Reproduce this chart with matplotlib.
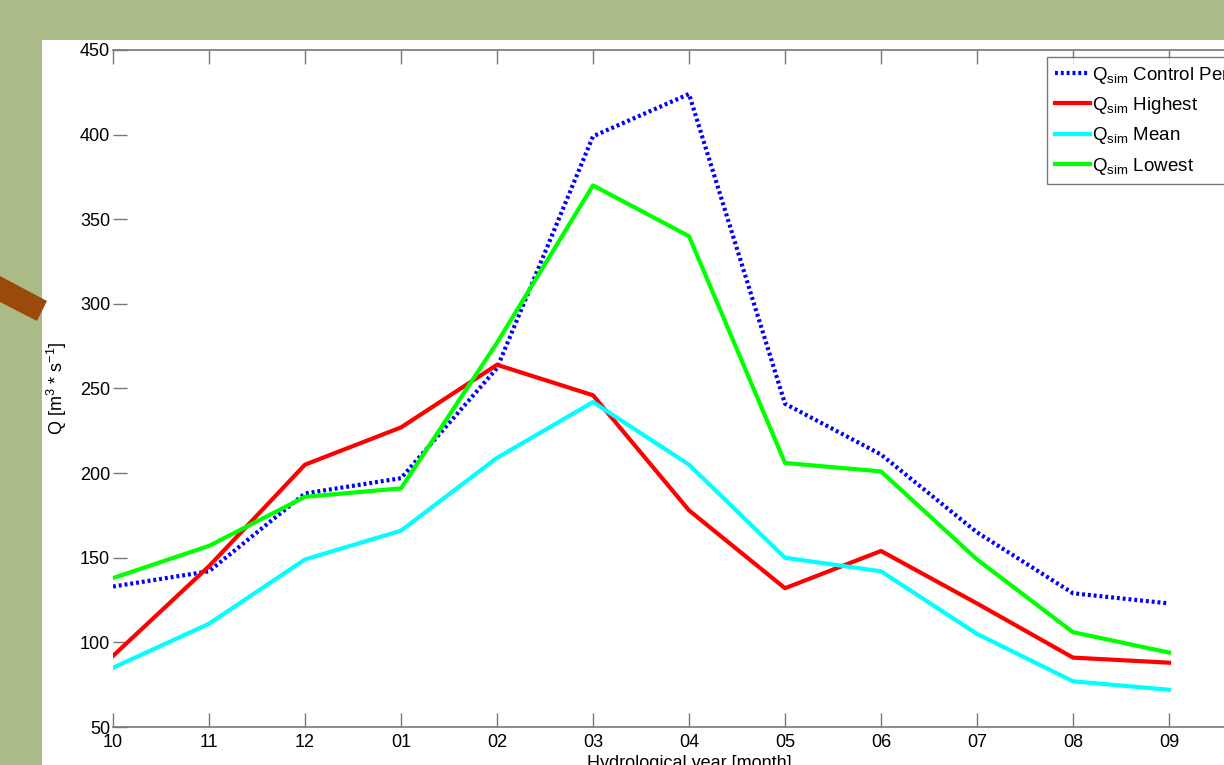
import numpy as np
import matplotlib.pyplot as plt
from matplotlib.patches import Polygon, Rectangle

plt.rcParams['font.family'] = ['Liberation Sans', 'DejaVu Sans']
plt.rcParams['mathtext.fontset'] = 'custom'
plt.rcParams['mathtext.rm'] = 'Liberation Sans'
plt.rcParams['mathtext.it'] = 'Liberation Sans:italic'

# mes del año hidrológico
months = ['10', '11', '12', '01', '02', '03', '04', '05', '06', '07', '08', '09']
q_control = [133, 142, 188, 197, 262, 399, 424, 241, 211, 165, 129, 123]
q_highest = [92, 145, 205, 227, 264, 246, 178, 132, 154, 123, 91, 88]
q_mean = [85, 111, 149, 166, 209, 242, 205, 150, 142, 105, 77, 72]
q_lowest = [138, 157, 186, 191, 277, 370, 340, 206, 201, 149, 106, 94]

W, H = 1224, 765
fig = plt.figure(figsize=(W / 100, H / 100), dpi=100)
fig.patch.set_facecolor('#aabb87')

# panel blanco y barra marrón del fondo de la diapositiva
fig.patches.append(Rectangle((42 / W, 0), 1, 1 - 40 / H, transform=fig.transFigure,
                             facecolor='white', edgecolor='none', zorder=-2))
barra = [(0, 276), (47, 301), (37, 321), (0, 302)]
fig.patches.append(Polygon([(x / W, 1 - y / H) for x, y in barra], closed=True,
                           transform=fig.transFigure, facecolor='#9a4a0a',
                           edgecolor='none', zorder=-1))

x0, x1 = 113, 1265
ax = fig.add_axes([x0 / W, 1 - 727 / H, (x1 - x0) / W, 677 / H])
ax.set_facecolor('none')

x = np.arange(1, len(months) + 1)
ax.plot(x, q_control, color='#0000ff', lw=3, ls=(0, (0.7, 0.7)),
        label=r'Q$_{\mathrm{sim}}$ Control Period')
ax.plot(x, q_highest, color='#ff0000', lw=3, label=r'Q$_{\mathrm{sim}}$ Highest')
ax.plot(x, q_mean, color='#00ffff', lw=3, label=r'Q$_{\mathrm{sim}}$ Mean')
ax.plot(x, q_lowest, color='#00ff00', lw=3, label=r'Q$_{\mathrm{sim}}$ Lowest')

ax.set_xlim(1, 13)
ax.set_ylim(50, 450)
ax.set_xticks(x)
ax.set_xticklabels(months)
ax.set_yticks(np.arange(50, 451, 50))

for s in ['top', 'bottom', 'right']:
    ax.spines[s].set_color('#777777')
    ax.spines[s].set_linewidth(1.2)
ax.spines['left'].set_visible(False)
ax.tick_params(direction='in', length=10, width=1, color='#777777',
               top=True, right=True, labelsize=13)
ax.tick_params(axis='x', pad=5)
ax.tick_params(axis='y', pad=2)

ax.set_ylabel(r'Q [m$^3$ * s$^{-1}$]', fontsize=13, labelpad=8)
ax.set_xlabel('Hydrological year [month]', fontsize=13, labelpad=3)

leg = ax.legend(loc='upper left', bbox_to_anchor=(1047 / W, 1 - 57 / H),
                bbox_transform=fig.transFigure, fontsize=13.5, frameon=True,
                fancybox=False, edgecolor='#555555', handlelength=1.9,
                handletextpad=0.1, borderpad=0.4, labelspacing=0.5,
                borderaxespad=0)
leg.get_frame().set_linewidth(1)

fig.savefig('out.png', dpi=100, facecolor=fig.get_facecolor())
